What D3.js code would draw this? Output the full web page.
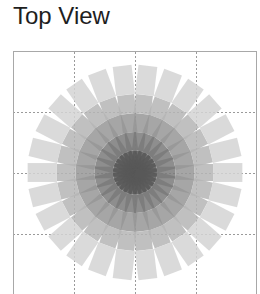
<!DOCTYPE html>
<html>
<head>
<meta charset="utf-8">
<style>
    body {
        margin: 0;
        background: #fff;
    }
    .grid line {
        stroke: #9a9a9a;
        stroke-width: 1;
        stroke-dasharray: 2,2;
    }
    .frame {
        fill: none;
        stroke: #a8a8a8;
        stroke-width: 1;
    }
    .title {
        font-family: "Liberation Sans", Arial, sans-serif;
        font-size: 24px;
        fill: #1e1e1e;
    }
</style>
</head>
<body>
<script src="https://d3js.org/d3.v7.min.js"></script>
<script>

    // angular positions of the bars (degrees)
    var angles = [0, 13.8, 27.7, 41.5, 55.4, 69.2, 83.1, 96.9, 110.8, 124.6, 138.5, 152.3, 166.2,
                  180, 193.8, 207.7, 221.5, 235.4, 249.2, 263.1, 276.9, 290.8, 304.6, 318.5, 332.3, 346.2];

    // rings, inner -> outer (radius and bar width in data units)
    var ringInner = [0, 0.36, 0.66, 0.97, 1.28];
    var ringOuter = [0.36, 0.66, 0.97, 1.28, 1.76];
    var ringWidth = [0.14, 0.19, 0.24, 0.28, 0.31];
    var ringColor = ["#585858", "#7a7a7a", "#979797", "#b5b5b5", "#d3d3d3"];

    var gridTicks = [-1, 0, 1];

    var width = 260, height = 294;

    var svg = d3.select("body").append("svg")
        .attr("width", width)
        .attr("height", height);

    var x = d3.scaleLinear().domain([-2, 2]).range([13, 257]);
    var y = d3.scaleLinear().domain([-2, 2]).range([294.5, 50.5]);

    svg.append("text")
        .attr("class", "title")
        .attr("x", 13)
        .attr("y", 24)
        .text("Top View");

    var grid = svg.append("g").attr("class", "grid");

    grid.selectAll("line.v")
        .data(gridTicks)
        .enter().append("line")
        .attr("x1", function(d) { return Math.round(x(d)) + 0.5; })
        .attr("x2", function(d) { return Math.round(x(d)) + 0.5; })
        .attr("y1", 52)
        .attr("y2", height);

    grid.selectAll("line.h")
        .data(gridTicks)
        .enter().append("line")
        .attr("y1", function(d) { return Math.round(y(d)) + 0.5; })
        .attr("y2", function(d) { return Math.round(y(d)) + 0.5; })
        .attr("x1", 13)
        .attr("x2", 257);

    // one rectangle per ring and angle, rotated about the centre
    var bars = [];
    ringInner.forEach(function(r0, i) {
        angles.forEach(function(a) {
            bars.push({ r0: r0, r1: ringOuter[i], w: ringWidth[i], a: a, ring: i });
        });
    });

    var line = d3.line()
        .x(function(p) { return x(p[0]); })
        .y(function(p) { return y(p[1]); });

    function corners(d) {
        var t = d.a * Math.PI / 180,
            c = Math.cos(t), s = Math.sin(t),
            h = d.w / 2;
        return [[d.r0, -h], [d.r1, -h], [d.r1, h], [d.r0, h]].map(function(p) {
            return [p[0] * c - p[1] * s, p[0] * s + p[1] * c];
        });
    }

    svg.append("g")
        .selectAll("path")
        .data(bars)
        .enter().append("path")
        .attr("d", function(d) { return line(corners(d)) + "Z"; })
        .attr("fill", function(d) { return ringColor[d.ring]; })
        .attr("fill-opacity", 0.85);

    svg.append("rect")
        .attr("class", "frame")
        .attr("x", 13.5)
        .attr("y", 51.5)
        .attr("width", 243)
        .attr("height", 260);

</script>
</body>
</html>
